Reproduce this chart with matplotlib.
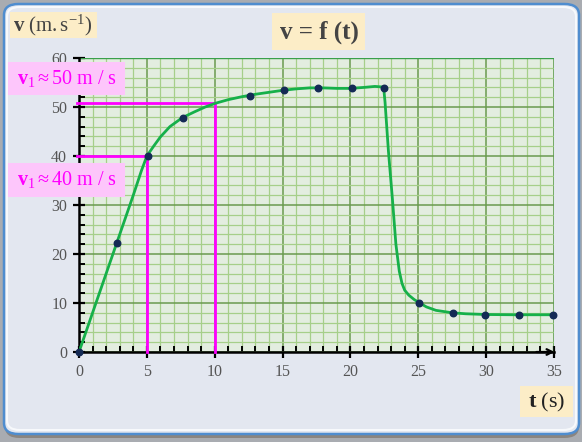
import numpy as np
import matplotlib
matplotlib.use("Agg")
import matplotlib.pyplot as plt
from matplotlib.patches import FancyBboxPatch, Rectangle
from matplotlib.ticker import MultipleLocator

plt.rcParams['mathtext.fontset'] = 'custom'
plt.rcParams['mathtext.rm'] = 'Liberation Serif'
plt.rcParams['mathtext.bf'] = 'Liberation Serif:bold'
plt.rcParams['mathtext.it'] = 'Liberation Serif:italic'

W, H = 582, 442

# measured points
t_mes = [0, 2.8, 5.05, 7.65, 12.6, 15.1, 17.6, 20.1, 22.45, 25.05, 27.55, 29.95, 32.4, 34.9]
v_mes = [0, 22.3, 40.0, 47.8, 52.3, 53.4, 53.9, 53.8, 53.9, 10.1, 8.0, 7.5, 7.5, 7.5]

# smoothed curve v = f(t)
t_fit = [0, 1, 2, 3, 4, 4.6, 5.0, 5.5, 6.0, 6.7, 7.6, 8.5, 9.3, 10.1, 11.0, 12.0,
         13.0, 14.0, 15.0, 16.0, 17.0, 18.0, 19.0, 20.0, 21.0, 21.8, 22.3, 22.45,
         22.55, 22.8, 23.1, 23.35, 23.6, 23.8, 24.0, 24.3, 24.7, 25.05, 25.6, 26.3,
         27.5, 28.5, 30.0, 32.0, 35.0]
v_fit = [0, 8.0, 16.0, 24.0, 32.0, 37.0, 40.0, 42.0, 43.9, 46.0, 47.8, 49.0, 50.0,
         50.8, 51.5, 52.1, 52.6, 53.0, 53.4, 53.7, 53.9, 53.9, 53.8, 53.8, 54.0,
         54.2, 54.1, 53.9, 51.0, 41.0, 31.0, 22.0, 16.5, 14.0, 12.6, 11.6, 10.7,
         10.1, 9.2, 8.5, 8.0, 7.8, 7.65, 7.6, 7.6]

# reading lines for v1
t_read = [5, 10]
v_read = [40, 50.8]
read_txt = [r'$\mathbf{v}_1 \approx 40\ \mathrm{m\ /\ s}$',
            r'$\mathbf{v}_1 \approx 50\ \mathrm{m\ /\ s}$']

fig = plt.figure(figsize=(W / 100, H / 100), dpi=100)
fig.patch.set_facecolor('#a9acb1')


def box(x0, y0, x1, y1, color, z=5):
    r = Rectangle((x0 / W, 1 - y1 / H), (x1 - x0) / W, (y1 - y0) / H,
                  transform=fig.transFigure, facecolor=color, edgecolor='none', zorder=z)
    fig.add_artist(r)


# rounded panel with a soft shadow at the bottom
shadow = FancyBboxPatch((5 / W, 1 - 438 / H), 574 / W, 432 / H,
                        boxstyle="round,pad=0,rounding_size=0.025",
                        transform=fig.transFigure, facecolor='#8a8580',
                        edgecolor='none', zorder=0)
fig.add_artist(shadow)
panel = FancyBboxPatch((4 / W, 1 - 434 / H), 575 / W, 430 / H,
                       boxstyle="round,pad=0,rounding_size=0.025",
                       transform=fig.transFigure, facecolor='#e3e7f0',
                       edgecolor='#4f8dcf', linewidth=1.8, zorder=0.5)
fig.add_artist(panel)
inner = FancyBboxPatch((7 / W, 1 - 430 / H), 569 / W, 423 / H,
                       boxstyle="round,pad=0,rounding_size=0.022",
                       transform=fig.transFigure, facecolor='none',
                       edgecolor='#f7f9fc', linewidth=1.5, zorder=0.6)
fig.add_artist(inner)

ax = fig.add_axes([79 / W, 1 - 352 / H, 475 / W, 294 / H])
ax.set_facecolor('#e3ede0')
ax.set_zorder(2)

ax.plot(t_fit, v_fit, color='#16b04a', lw=2, zorder=4)
ax.scatter(t_mes, v_mes, s=22, color='#142a55', zorder=5, clip_on=False)

for tr, vr in zip(t_read, v_read):
    ax.plot([-0.15, tr, tr], [vr, vr, 0], color='#ff00ff', lw=2, zorder=3.5, clip_on=False)

ax.set_xlim(0, 35)
ax.set_ylim(0, 60)
ax.xaxis.set_major_locator(MultipleLocator(5))
ax.xaxis.set_minor_locator(MultipleLocator(1))
ax.yaxis.set_major_locator(MultipleLocator(10))
ax.yaxis.set_minor_locator(MultipleLocator(2))
ax.grid(which='minor', color='#a6cf8a', lw=0.9, zorder=1)
ax.grid(which='major', color='#6a9a50', lw=1.1, zorder=1)
ax.set_axisbelow(True)

for s in ['top', 'right']:
    ax.spines[s].set_visible(False)
for s in ['left', 'bottom']:
    ax.spines[s].set_linewidth(1.8)
    ax.spines[s].set_color('black')
ax.axhline(60, color='#3aa04a', lw=1.0, zorder=1.5)
ax.axvline(35, color='#3aa04a', lw=1.0, zorder=1.5)

ax.tick_params(which='major', direction='inout', length=9, width=1.6, color='black',
               labelsize=11.5, labelcolor='#555555', pad=4)
ax.tick_params(which='minor', direction='in', length=4, width=1.4, color='black')
for lab in ax.get_xticklabels() + ax.get_yticklabels():
    lab.set_fontfamily('Liberation Serif')

# arrow on the time axis
ax.annotate('', xy=(35.25, 0), xytext=(33.5, 0),
            arrowprops=dict(arrowstyle='->', color='black', lw=1.6),
            annotation_clip=False)

# label boxes
box(10, 12, 97, 38, '#fcedc7')
fig.text(53 / W, 1 - 25 / H, r'$\mathbf{v}\ \mathrm{(m.s^{-1})}$', ha='center', va='center',
         fontsize=15, color='#444444', zorder=6)

box(272, 13, 365, 50, '#fcedc7')
fig.text(319 / W, 1 - 32 / H, 'v = f (t)', ha='center', va='center', fontsize=18,
         fontweight='bold', family='Liberation Serif', color='#444444', zorder=6)

box(520, 386, 573, 417, '#fcedc7')
fig.text(547 / W, 1 - 402 / H, r'$\mathbf{t}\ \mathrm{(s)}$', ha='center', va='center',
         fontsize=16, color='#222222', zorder=6)

pink_y = [(163, 197), (62, 95)]
for (y0, y1), txt in zip(pink_y, read_txt):
    box(8, y0, 125, y1, '#fdc6fb', z=6)
    fig.text(67 / W, 1 - (y0 + y1) / 2 / H, txt, ha='center', va='center',
             fontsize=14.5, color='#ff00ff', zorder=7)

fig.savefig('out.png', dpi=100, facecolor=fig.get_facecolor())
